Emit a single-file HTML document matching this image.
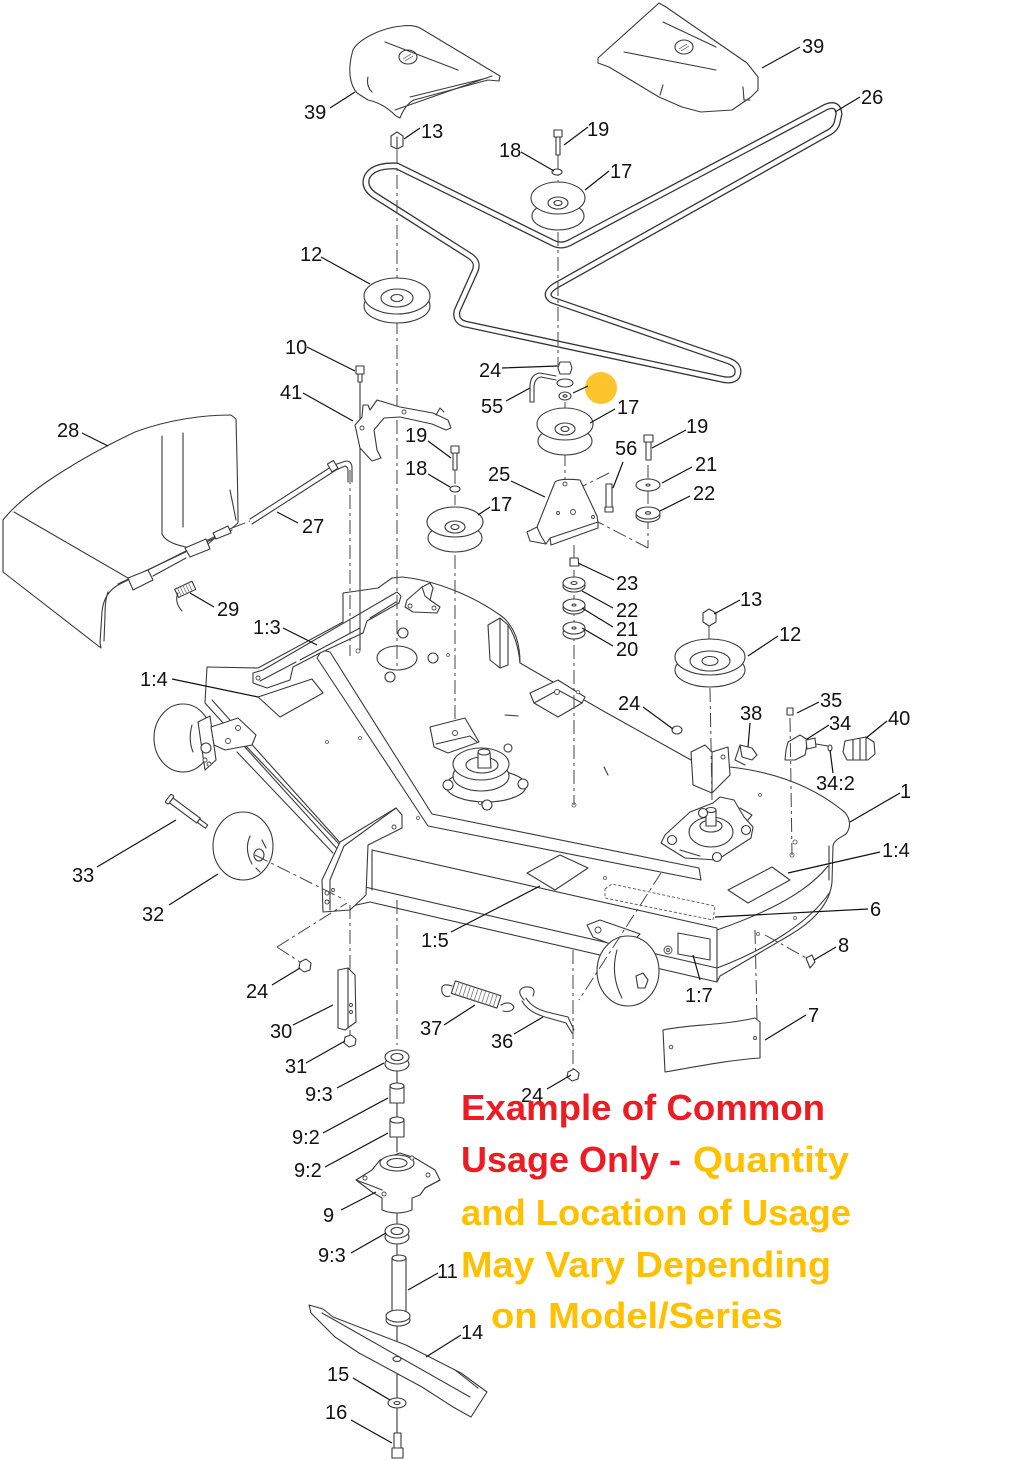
<!DOCTYPE html>
<html><head><meta charset="utf-8"><style>
html,body{margin:0;padding:0;background:#fff;}
svg{display:block;}
</style></head><body>
<svg width="1024" height="1460" viewBox="0 0 1024 1460" xmlns="http://www.w3.org/2000/svg" font-family="'Liberation Sans', Arial, sans-serif">
<defs><style>
.o{fill:#fff;stroke:#3a3a3a;stroke-width:1.1;stroke-linejoin:round}
.l{fill:none;stroke:#3a3a3a;stroke-width:1.1;stroke-linejoin:round;stroke-linecap:round}
.t{fill:none;stroke:#777;stroke-width:0.8}
.d{fill:none;stroke:#444;stroke-width:1;stroke-dasharray:14 4 3 4}
.ld{fill:none;stroke:#111;stroke-width:1.2}
.lb{font-size:20px;fill:#111}
.h{fill:#fff;stroke:#444;stroke-width:0.9}
</style></defs>
<rect width="1024" height="1460" fill="#fff"/>

<!-- COVER 39 LEFT -->
<path class="o" d="M353,50 C358,40 380,28 402,26 C410,25 416,26 420,28 L490,70 L500,76 L499,81 L488,80 L414,100 C408,103 403,110 400,118 L396,116 C388,108 378,102 368,100 L357,93 C350,85 347,70 353,50 Z"/>
<path class="l" d="M385,42 L458,70 M410,97 L487,78 M395,110 L492,76 M368,77 Q366,86 372,92"/>
<ellipse class="l" cx="408" cy="57" rx="9" ry="7"/>
<path class="t" d="M403,59 L411,54 M405,61 L413,56"/>

<!-- COVER 39 RIGHT -->
<path class="o" d="M598,58 L659,3 L666,7 L747,63 L758,77 L758,90 L751,97 L732,110 L701,112 L682,107 L659,97 L609,67 L598,63 Z"/>
<path class="l" d="M663,22 L716,47 M624,52 L716,70 M663,85 L660,95 M743,87 L744,100 L750,100"/>
<ellipse class="l" cx="684" cy="47" rx="9" ry="7"/>
<path class="t" d="M679,49 L687,44 M681,51 L689,46"/>

<!-- BELT 26 -->
<path d="M397,166 L553,243 Q561,247 569,243 L826,107 Q838,102 839,114 L837,123 Q835,130 826,134 L555,286 Q543,294 552,300 L729,361 Q741,366 737,376 Q733,382 721,379 L465,324 Q455,321 457,311 L475,271 Q479,262 470,256 L374,195 Q363,187 367,177 Q373,165 397,166 Z" fill="none" stroke="#333" stroke-width="7" stroke-linejoin="round"/>
<path d="M397,166 L553,243 Q561,247 569,243 L826,107 Q838,102 839,114 L837,123 Q835,130 826,134 L555,286 Q543,294 552,300 L729,361 Q741,366 737,376 Q733,382 721,379 L465,324 Q455,321 457,311 L475,271 Q479,262 470,256 L374,195 Q363,187 367,177 Q373,165 397,166 Z" fill="none" stroke="#fff" stroke-width="4.4" stroke-linejoin="round"/>

<!-- GRASS CHUTE 28 -->
<path class="o" d="M3,520 C25,492 80,458 135,432 C170,419 205,415 231,415 L236,419 C237,460 238,495 238,523 L232,528 L140,574 L120,584 C108,590 103,600 102,612 L100,643 L101,648 L3,572 Z"/>
<path class="l" d="M14,512 L128,578 M162,436 L162,534 Q166,543 186,547 M183,433 L183,527 M108,592 C105,600 105,610 105,615 L104,641 M230,490 L236,520 M118,584 L232,530"/>
<path class="o" d="M128,578 L148,570 L153,580 L133,590 Z M185,548 L206,539 L210,549 L190,557 Z M213,533 L228,526 L231,533 L216,539 Z"/>
<path class="l" d="M153,576 L186,558 M208,544 L215,538"/>

<!-- ROD 27 -->
<path class="l" d="M250,519 L334,465 M252,524 L336,470 M334,465 L346,461 Q352,461 352,468 L352,482 M336,470 L345,466 Q348,467 348,471 L348,482"/>
<rect class="o" x="329" y="462" width="7" height="9" transform="rotate(-30 332 466)"/>
<path class="d" d="M232,528 L250,521"/>
<!-- SPRING 29 -->
<g transform="rotate(-25 185 590)"><rect class="o" x="176" y="585" width="19" height="9"/><path class="t" d="M179,585v9M182,585v9M185,585v9M188,585v9M191,585v9"/></g>
<path class="l" d="M178,593 Q174,602 182,611"/>

<!-- DECK MAIN -->
<path class="o" d="M207,667 L258,668 L343,622 L343,593 L378,588 L392,578 L402,577 C432,580 472,594 504,618 C516,630 520,645 520,663 L605,712 L691,760 L730,767 C775,772 812,786 842,810 C850,816 852,826 846,834 C840,838 834,840 833,846 L832,882 C830,905 812,922 790,935 L720,976 L717,982 L370,902 L352,906 L340,852 L205,703 Z"/>
<path class="l" d="M212,700 L343,846 M372,850 L717,928 M365,887 L717,968 M717,928 L717,982 M717,930 C760,915 805,895 828,866 M717,968 C765,950 810,922 830,892 M372,850 L372,890 M829,846 L829,880"/>
<!-- caster arm -->
<path class="l" d="M237,752 L333,853 M245,745 L341,846"/>
<!-- baffle 1:5 -->
<path class="o" d="M322,650 L330,652 L432,814 L699,868 L701,880 L428,826 L317,658 Z"/>
<!-- 1:3 bracket -->
<path class="o" d="M253,683 L253,673 L263,670 L397,592 L401,596 L399,603 L367,621 L363,633 L320,653 L293,667 L290,680 L267,688 Z"/>
<path class="l" d="M260,681 L296,662 M300,660 L360,628 M370,618 L396,602"/>
<circle class="h" cx="258" cy="678" r="2"/>
<!-- decals -->
<path class="o" d="M258,697 L312,679 L323,693 L280,717 Z"/>
<path class="o" d="M527,873 L560,855 L588,868 L555,890 Z"/>
<path class="o" d="M728,890 L772,867 L790,880 L748,903 Z"/>
<path d="M605,889 L612,884 L715,906 L713,920 L605,898 Z" fill="#fff" stroke="#555" stroke-width="0.9" stroke-dasharray="3 2"/>
<path class="o" d="M678,933 L710,939 L710,960 L678,954 Z"/>
<circle class="h" cx="668" cy="950" r="4"/><circle class="h" cx="668" cy="950" r="1.5"/>
<!-- hole & nuts on deck -->
<ellipse class="l" cx="397" cy="658" rx="20" ry="12"/>
<circle class="o" cx="403" cy="633" r="5"/><circle class="o" cx="433" cy="658" r="5"/><circle class="o" cx="390" cy="677" r="5"/>
<!-- mount near 1:3 -->
<path class="o" d="M405,607 L407,600 L422,587 L430,583 L433,588 L430,600 L440,607 L437,613 L413,612 Z"/>
<path class="l" d="M422,587 L425,596 L430,600"/>
<circle class="h" cx="410" cy="606" r="2"/><circle class="h" cx="434" cy="608" r="2"/>
<!-- vertical bracket -->
<path class="o" d="M488,625 L500,618 L508,625 L508,665 L500,668 L490,660 Z"/>
<path class="l" d="M500,618 L500,668 M508,625 Q518,640 520,663"/>
<!-- bracket near washers -->
<path class="o" d="M530,693 L558,680 L585,697 L582,703 L558,717 L534,703 Z"/>
<path class="l" d="M534,703 L558,690 L582,703"/>
<circle class="h" cx="557" cy="692" r="2.5"/>
<!-- bracket above left spindle -->
<path class="o" d="M430,727 L465,718 L479,742 L448,753 L434,747 Z"/>
<path class="l" d="M436,744 L470,736 L477,742"/>
<circle class="h" cx="455" cy="733" r="2.5"/>
<!-- left spindle -->
<ellipse class="o" cx="486" cy="786" rx="40" ry="16"/>
<ellipse class="o" cx="481" cy="776" rx="28" ry="15"/>
<ellipse class="o" cx="481" cy="764" rx="28" ry="16"/>
<ellipse class="l" cx="482" cy="765" rx="16" ry="8"/>
<path class="o" d="M478,752 L490,752 L491,768 L478,768 Z"/>
<ellipse class="o" cx="484" cy="752" rx="6" ry="3"/>
<circle class="o" cx="448" cy="785" r="5"/><circle class="o" cx="523" cy="784" r="5"/><circle class="o" cx="487" cy="805" r="5"/><circle class="o" cx="508" cy="748" r="4"/>
<!-- V bracket -->
<path class="o" d="M691,752 L705,745 L712,752 L728,747 L730,775 L712,793 L693,785 Z"/>
<path class="l" d="M712,752 L712,793"/>
<circle class="h" cx="723" cy="757" r="2"/>
<!-- part 38 -->
<path class="o" d="M740,745 L752,748 L757,755 L752,760 L742,757 Z"/><path class="l" d="M740,745 L735,760 L745,765"/>
<!-- 35, 34, 34:2, 40 -->
<path class="o" d="M787,708 L793,708 L793,715 L787,715 Z"/>
<path class="o" d="M788,742 L800,735 L808,740 L805,755 L795,760 L785,760 L786,750 Z"/>
<path class="o" d="M806,740 L815,738 L816,747 L807,749 Z"/>
<ellipse class="l" cx="830" cy="748" rx="2" ry="3"/>
<path class="l" d="M816,744 L828,746"/>
<path class="o" d="M845,741 L866,737 L874,742 L875,754 L868,760 L847,760 L843,752 Z"/>
<path class="l" d="M853,740 L853,760 M860,739 L860,760 M866,737 L866,760"/>
<!-- right spindle -->
<path class="o" d="M661,843 L672,850 L685,858 L717,860 L751,838 L753,827 L744,817 L734,800 L720,797 L713,803 L690,812 L665,835 Z"/>
<ellipse class="o" cx="711" cy="832" rx="22" ry="15"/>
<ellipse class="l" cx="711" cy="826" rx="11" ry="6"/>
<path class="o" d="M706,810 L716,810 L716,826 L706,826 Z"/><ellipse class="o" cx="711" cy="810" rx="5" ry="2.5"/>
<circle class="o" cx="672" cy="840" r="4.5"/><circle class="o" cx="703" cy="813" r="4.5"/><circle class="o" cx="746" cy="830" r="4.5"/><circle class="o" cx="717" cy="857" r="4.5"/>
<path class="l" d="M740,808 L752,815 L748,820 M680,850 L700,856"/>
<!-- small holes on deck -->
<g fill="#fff" stroke="#555" stroke-width="0.8">
<circle cx="358" cy="651" r="2"/><circle cx="327" cy="742" r="1.5"/><circle cx="360" cy="738" r="1.5"/><circle cx="448" cy="655" r="1.5"/><circle cx="418" cy="818" r="1.5"/><circle cx="605" cy="878" r="1.5"/><circle cx="574" cy="805" r="2"/><circle cx="792" cy="855" r="2"/><circle cx="760" cy="795" r="1.5"/><circle cx="758" cy="934" r="1.5"/><circle cx="795" cy="918" r="1.5"/><circle cx="480" cy="803" r="1.5"/><circle cx="578" cy="692" r="1.5"/><circle cx="795" cy="842" r="2"/>
</g>
<path class="l" d="M505,715 L518,716 M604,767 L608,775"/>

<!-- FRONT-LEFT BRACKET -->
<path class="o" d="M396,808 L402,815 L402,828 L368,845 L366,895 L350,910 L323,912 L322,880 L340,842 Z"/>
<path class="l" d="M396,808 L344,846 L330,880 L330,910"/>
<circle class="h" cx="394" cy="827" r="2"/><circle class="h" cx="327" cy="893" r="2"/><circle class="h" cx="327" cy="902" r="2"/><circle class="h" cx="333" cy="890" r="1.5"/>

<!-- REAR-LEFT CASTER -->
<ellipse class="o" cx="183" cy="738" rx="29" ry="34"/>
<path class="o" d="M198,722 L210,716 L216,760 L205,770 Z"/>
<path class="o" d="M211,727 L238,718 L256,735 L252,745 L225,750 L214,745 Z"/>
<circle class="h" cx="238" cy="728" r="2.5"/><circle class="h" cx="228" cy="741" r="2.5"/><circle class="o" cx="206" cy="748" r="5"/><circle class="h" cx="205" cy="760" r="2"/><circle class="h" cx="209" cy="764" r="2"/>
<path class="l" d="M192,725 Q188,740 193,752"/>

<!-- PIN 33 & WHEEL 32 -->
<g transform="translate(168,798) rotate(36.6)">
<rect class="o" x="4" y="-3" width="34" height="6"/>
<rect class="o" x="38" y="-2" width="10" height="4"/>
<rect class="o" x="0" y="-5" width="4" height="10" rx="1.5"/>
</g>
<ellipse class="o" cx="243" cy="846" rx="30" ry="34"/>
<ellipse class="l" cx="259" cy="855" rx="5" ry="6"/>
<path class="l" d="M250,836 Q244,850 252,864 M262,840 L266,848 M256,868 L260,872"/>

<!-- FRONT-RIGHT CASTER -->
<path class="o" d="M587,925 L600,920 L640,934 L625,950 L593,937 Z"/>
<circle class="h" cx="598" cy="930" r="3"/>
<ellipse class="o" cx="628" cy="971" rx="31" ry="35"/>
<path class="o" d="M636,976 L643,973 L648,980 L645,988 L638,988 Z"/>
<path class="l" d="M617,950 Q610,975 622,998"/>

<!-- DASH / CENTER LINES -->
<path class="d" d="M397,150 L397,280 M397,320 L397,668 M350,470 L350,656 M455,470 L455,505 M455,555 L455,722 M558,155 L558,182 M558,232 L558,365 M565,402 L565,480 M574,545 L574,805 M648,465 L648,548 M648,548 L598,522 M609,473 L581,487 M709,625 L709,640 M710,688 L712,800 M790,718 L792,855 M350,905 L350,1040 M397,900 L397,1045 M573,950 L573,1072 M755,930 L757,1020 M255,855 L345,900 M277,947 L347,903 M277,947 L300,962 M661,873 L579,1000 M765,935 L810,960"/>
<path class="l" d="M360,380 L360,650 M397,1068 L397,1083 M397,1103 L397,1118 M397,1138 L397,1152 M397,1212 L397,1225 M397,1240 L397,1256 M397,1322 L397,1398 M397,1408 L397,1434"/>

<!-- TOP PARTS -->
<path class="o" d="M391,136 L397,132 L403,136 L403,146 L397,149 L391,146 Z"/><path class="l" d="M397,137 L397,149"/>
<rect class="o" x="554" y="130" width="8" height="7"/><rect class="o" x="556" y="137" width="4" height="18"/>
<ellipse class="o" cx="557" cy="172" rx="5" ry="3"/>
<!-- pulley 17 top -->
<ellipse class="o" cx="558" cy="216" rx="26" ry="14"/>
<ellipse class="o" cx="558" cy="198" rx="27" ry="16"/>
<ellipse class="l" cx="558" cy="203" rx="10" ry="6"/><ellipse class="l" cx="558" cy="203" rx="4" ry="2.5"/>
<!-- pulley 12 top-left -->
<ellipse class="o" cx="397" cy="306" rx="33" ry="17"/>
<ellipse class="o" cx="397" cy="296" rx="33" ry="18"/>
<ellipse class="l" cx="397" cy="298" rx="16" ry="9"/><ellipse class="l" cx="397" cy="298" rx="6" ry="3.5"/>
<!-- screw 10 -->
<rect class="o" x="356" y="366" width="8" height="8"/><rect class="o" x="358" y="374" width="4" height="8"/>
<!-- bracket 41 -->
<path class="o" d="M362,417 L363,405 L368,405 L370,410 L377,400 L400,407 L433,413 L448,420 L451,428 L446,430 L432,424 L400,417 L384,418 L374,430 L377,450 L381,458 L372,461 L360,448 L355,425 Z"/>
<circle class="h" cx="362" cy="428" r="2"/><circle class="h" cx="404" cy="412" r="2"/>
<path class="l" d="M436,415 L440,408 L444,412"/>
<!-- mid idler -->
<path class="o" d="M560,362 L570,362 L572,368 L570,374 L560,374 L558,368 Z"/>
<path class="l" d="M530,402 L530,385 Q531,374 540,373 L556,376 M534,402 L534,386 Q535,378 541,377 L556,380 M530,402 L534,402"/>
<ellipse class="o" cx="565" cy="383" rx="8" ry="4"/><ellipse class="o" cx="565" cy="396" rx="6" ry="4"/><ellipse class="l" cx="565" cy="396" rx="2" ry="1.2"/>
<circle cx="601" cy="388" r="16" fill="#fbc52b"/>
<ellipse class="o" cx="565" cy="441" rx="27" ry="14"/>
<ellipse class="o" cx="565" cy="424" rx="28" ry="16"/>
<ellipse class="l" cx="565" cy="429" rx="10" ry="6"/><ellipse class="l" cx="565" cy="429" rx="4" ry="2.5"/>
<!-- plate 25 -->
<path class="o" d="M555,482 Q560,478 580,480 L597,516 L598,522 L550,538 L546,544 L530,541 L527,532 L537,527 Z"/>
<path class="l" d="M537,527 L541,536 L546,544 M550,538 L551,545 L598,528 L598,522"/>
<circle class="h" cx="565" cy="484" r="2"/><circle class="h" cx="573" cy="512" r="2.5"/><circle class="h" cx="558" cy="513" r="1.5"/><circle class="h" cx="593" cy="517" r="1.5"/>
<!-- bolt 56, 19, washers -->
<rect class="o" x="606" y="484" width="6" height="24"/><path class="o" d="M605,507 L613,507 L613,512 L605,512 Z"/>
<rect class="o" x="644" y="435" width="9" height="7"/><rect class="o" x="646" y="442" width="5" height="18"/>
<ellipse class="o" cx="648" cy="485" rx="12" ry="6"/><ellipse class="l" cx="648" cy="485" rx="2" ry="1"/>
<ellipse class="o" cx="648" cy="516" rx="12" ry="6"/><ellipse class="o" cx="648" cy="513" rx="12" ry="6"/><ellipse class="l" cx="648" cy="513" rx="2.5" ry="1.3"/>
<!-- left idler -->
<rect class="o" x="451" y="446" width="8" height="7"/><rect class="o" x="453" y="453" width="4" height="17"/>
<ellipse class="o" cx="455" cy="489" rx="5" ry="3"/>
<ellipse class="o" cx="455" cy="538" rx="27" ry="14"/>
<ellipse class="o" cx="455" cy="522" rx="28" ry="15"/>
<ellipse class="l" cx="455" cy="527" rx="10" ry="6"/><ellipse class="l" cx="455" cy="527" rx="4" ry="2.5"/>
<!-- right pulley & washers -->
<path class="o" d="M703,613 L709,609 L716,613 L716,622 L709,626 L703,622 Z"/>
<ellipse class="o" cx="710" cy="670" rx="35" ry="17"/>
<ellipse class="o" cx="710" cy="657" rx="35" ry="18"/>
<ellipse class="l" cx="710" cy="661" rx="20" ry="10"/><ellipse class="l" cx="710" cy="661" rx="8" ry="4.5"/>
<path class="o" d="M570,558 L578,558 L579,566 L570,566 Z"/>
<ellipse class="o" cx="574" cy="586" rx="11" ry="6"/><ellipse class="o" cx="574" cy="583" rx="11" ry="6"/><ellipse class="l" cx="574" cy="583" rx="3" ry="1.5"/>
<ellipse class="o" cx="574" cy="608" rx="11" ry="6"/><ellipse class="o" cx="574" cy="605" rx="11" ry="6"/><ellipse class="l" cx="574" cy="605" rx="2" ry="1"/>
<ellipse class="o" cx="574" cy="633" rx="11" ry="6"/><ellipse class="o" cx="574" cy="628" rx="11" ry="6"/><ellipse class="l" cx="574" cy="628" rx="2" ry="1"/>
<ellipse class="o" cx="677" cy="730" rx="5" ry="4"/>

<!-- UNDER DECK PARTS -->
<path class="o" d="M300,962 L306,959 L311,963 L310,970 L304,972 L299,968 Z"/>
<path class="o" d="M338,970 L348,968 L355,975 L356,1022 L345,1030 L338,1028 Z"/>
<path class="l" d="M348,968 L348,1028"/>
<circle class="h" cx="351" cy="1005" r="1.5"/><circle class="h" cx="351" cy="1012" r="1.5"/>
<path class="o" d="M345,1037 L351,1035 L356,1039 L355,1045 L349,1047 L344,1043 Z"/>
<!-- spring 37 -->
<g transform="rotate(18 476 995)"><rect class="o" x="452" y="988" width="48" height="13"/><path class="t" d="M456,988v13M460,988v13M464,988v13M468,988v13M472,988v13M476,988v13M480,988v13M484,988v13M488,988v13M492,988v13M496,988v13"/></g>
<path class="l" d="M452,986 Q440,982 442,992 Q444,998 450,996 M501,1005 Q510,1000 514,1007 Q512,1013 503,1011"/>
<!-- hook 36 -->
<path class="l" d="M524,1000 Q515,990 525,987 Q537,986 533,996 M522,1001 Q528,1012 545,1017 L566,1023 L572,1033 M526,998 Q532,1008 547,1012 L568,1017 L574,1030"/>
<!-- plate 7 -->
<path class="o" d="M663,1030 C690,1024 720,1026 755,1018 L760,1022 L760,1058 C730,1060 700,1066 665,1072 Z"/>
<circle class="h" cx="671" cy="1047" r="1.8"/><circle class="h" cx="755" cy="1038" r="1.5"/>
<path class="o" d="M806,958 L812,955 L815,962 L810,968 Z"/>
<path class="o" d="M568,1072 L574,1069 L579,1073 L578,1079 L572,1081 L567,1077 Z"/>
<!-- spindle stack -->
<ellipse class="o" cx="397" cy="1064" rx="12" ry="7"/><ellipse class="o" cx="397" cy="1057" rx="12" ry="7"/><ellipse class="l" cx="397" cy="1057" rx="6" ry="3.5"/>
<rect class="o" x="390" y="1085" width="14" height="18"/><ellipse class="o" cx="397" cy="1086" rx="7" ry="3"/>
<rect class="o" x="390" y="1119" width="14" height="18"/><ellipse class="o" cx="397" cy="1120" rx="7" ry="3"/>
<path class="o" d="M356,1180 L372,1170 L380,1160 L400,1153 L415,1158 L435,1170 L440,1180 L425,1188 L420,1195 L412,1198 L412,1210 Q397,1216 382,1210 L382,1198 L372,1192 Z"/>
<ellipse class="o" cx="397" cy="1163" rx="17" ry="8"/><ellipse class="l" cx="397" cy="1163" rx="10" ry="4.5"/>
<path class="l" d="M356,1180 L372,1186 L382,1190 M425,1188 L440,1180"/>
<circle class="h" cx="365" cy="1178" r="2"/><circle class="h" cx="428" cy="1175" r="2"/><circle class="h" cx="412" cy="1158" r="2"/><circle class="h" cx="384" cy="1194" r="2"/>
<ellipse class="o" cx="397" cy="1237" rx="12" ry="7"/><ellipse class="o" cx="397" cy="1231" rx="12" ry="7"/><ellipse class="l" cx="397" cy="1231" rx="6" ry="3.5"/>
<rect class="o" x="392" y="1258" width="14" height="57"/><ellipse class="o" cx="399" cy="1258" rx="7" ry="3"/>
<ellipse class="o" cx="398" cy="1320" rx="12" ry="6"/><ellipse class="o" cx="398" cy="1316" rx="12" ry="6"/>
<!-- blade 14 -->
<path class="o" d="M309,1305 L323,1309 L333,1317 L406,1345 L461,1373 L487,1392 L471,1417 L453,1407 L422,1387 L359,1353 L335,1337 L311,1313 Z"/>
<path class="l" d="M322,1313 L470,1397 M455,1370 L478,1388"/>
<ellipse class="l" cx="397" cy="1359" rx="4" ry="2.5"/>
<ellipse class="o" cx="397" cy="1403" rx="9" ry="5"/><ellipse class="l" cx="397" cy="1403" rx="3" ry="1.5"/>
<rect class="o" x="394" y="1433" width="7" height="16"/><rect class="o" x="392" y="1448" width="11" height="10"/>

<!-- LEADERS -->
<path class="ld" d="M330,108 L355,92 M800,47 L762,68 M420,128 L404,139 M588,127 L564,145 M521,152 L554,171 M609,171 L585,190 M860,97 L835,112 M321,257 L370,284 M307,347 L355,371 M502,368 L558,366 M506,401 L530,388 M573,393 L588,386 M615,409 L590,423 M303,393 L353,421 M82,433 L108,446 M428,441 L451,458 M428,474 L450,487 M511,481 L545,497 M623,462 L613,488 M686,430 L652,448 M692,467 L662,483 M690,496 L660,511 M490,507 L478,515 M298,523 L277,512 M214,607 L190,593 M614,580 L578,563 M613,608 L582,591 M613,627 L582,608 M613,646 L582,628 M740,600 L714,614 M778,636 L748,656 M283,628 L317,645 M172,679 L258,697 M643,707 L673,729 M750,723 L748,747 M819,702 L797,713 M829,725 L807,739 M887,721 L866,738 M833,773 L830,750 M900,793 L850,822 M880,852 L788,873 M868,909 L715,917 M836,947 L814,960 M97,867 L176,820 M169,905 L218,874 M451,932 L540,886 M700,980 L693,955 M272,985 L300,968 M293,1025 L333,1005 M806,1015 L765,1040 M444,1025 L475,1005 M514,1034 L543,1017 M306,1063 L345,1041 M547,1089 L571,1075 M337,1088 L384,1063 M323,1133 L388,1098 M325,1167 L388,1133 M341,1210 L376,1192 M351,1253 L386,1233 M438,1273 L408,1290 M461,1335 L426,1357 M353,1378 L390,1400 M351,1420 L392,1443"/>

<!-- LABELS -->
<g class="lb">
<text x="304" y="119">39</text><text x="802" y="53">39</text><text x="421" y="138">13</text><text x="587" y="136">19</text>
<text x="499" y="157">18</text><text x="610" y="178">17</text><text x="861" y="104">26</text><text x="300" y="261">12</text>
<text x="285" y="354">10</text><text x="479" y="377">24</text><text x="481" y="413">55</text><text x="617" y="414">17</text>
<text x="280" y="399">41</text><text x="57" y="437">28</text><text x="405" y="442">19</text><text x="405" y="475">18</text>
<text x="488" y="481">25</text><text x="615" y="455">56</text><text x="686" y="433">19</text><text x="695" y="471">21</text>
<text x="693" y="500">22</text><text x="490" y="511">17</text><text x="302" y="533">27</text><text x="217" y="616">29</text>
<text x="616" y="590">23</text><text x="616" y="617">22</text><text x="616" y="636">21</text><text x="616" y="656">20</text>
<text x="740" y="606">13</text><text x="779" y="641">12</text><text x="253" y="634">1:3</text><text x="140" y="686">1:4</text>
<text x="618" y="710">24</text><text x="740" y="720">38</text><text x="820" y="707">35</text><text x="829" y="730">34</text>
<text x="888" y="725">40</text><text x="816" y="790">34:2</text><text x="900" y="798">1</text><text x="882" y="857">1:4</text>
<text x="870" y="916">6</text><text x="838" y="952">8</text><text x="72" y="882">33</text><text x="142" y="921">32</text>
<text x="421" y="947">1:5</text><text x="685" y="1002">1:7</text><text x="246" y="998">24</text><text x="270" y="1038">30</text>
<text x="808" y="1022">7</text><text x="420" y="1035">37</text><text x="491" y="1048">36</text><text x="285" y="1073">31</text>
<text x="521" y="1102">24</text><text x="305" y="1101">9:3</text><text x="292" y="1144">9:2</text><text x="294" y="1177">9:2</text>
<text x="323" y="1222">9</text><text x="318" y="1262">9:3</text><text x="437" y="1278">11</text><text x="461" y="1339">14</text>
<text x="327" y="1381">15</text><text x="325" y="1419">16</text>
</g>

<!-- NOTICE TEXT -->
<g font-weight="bold" font-size="36">
<text x="461" y="1120" fill="#ed1c24" textLength="364" lengthAdjust="spacingAndGlyphs">Example of Common</text>
<text x="461" y="1172" fill="#ed1c24" textLength="220" lengthAdjust="spacingAndGlyphs">Usage Only -</text>
<text x="693" y="1172" fill="#ffc000" textLength="156" lengthAdjust="spacingAndGlyphs">Quantity</text>
<text x="461" y="1225" fill="#ffc000" textLength="390" lengthAdjust="spacingAndGlyphs">and Location of Usage</text>
<text x="461" y="1277" fill="#ffc000" textLength="370" lengthAdjust="spacingAndGlyphs">May Vary Depending</text>
<text x="491" y="1328" fill="#ffc000" textLength="292" lengthAdjust="spacingAndGlyphs">on Model/Series</text>
</g>
</svg>
</body></html>
